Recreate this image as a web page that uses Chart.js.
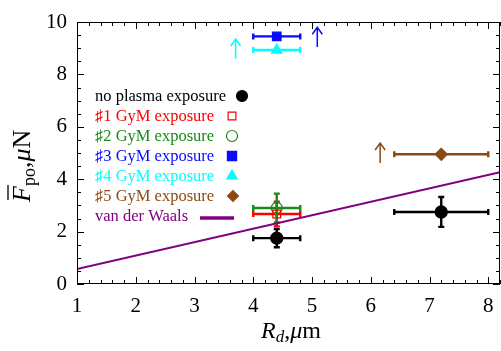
<!DOCTYPE html>
<html>
<head>
<meta charset="utf-8">
<script src="https://cdn.jsdelivr.net/npm/chart.js@4.4.0/dist/chart.umd.min.js"></script>
<style>
  html, body { margin: 0; padding: 0; background: #fff; }
  #wrap { width: 501px; height: 351px; }
</style>
</head>
<body>
<div id="wrap"><canvas id="myChart" width="501" height="351"></canvas></div>
<script>
// datos
const seriesNames = ['no plasma exposure', '\u266F1 GyM exposure', '\u266F2 GyM exposure',
  '\u266F3 GyM exposure', '\u266F4 GyM exposure', '\u266F5 GyM exposure'];
const seriesColors = ['#000000', '#ff0000', '#1a8a1a', '#0a0aff', '#00ffff', '#8b4a14'];
const seriesStyles = ['circle', 'rect', 'circle', 'rect', 'triangle', 'rectRot'];
const seriesFilled = [true, false, false, true, true, true];

const noPlasmaX = [4.4, 7.2];
const noPlasmaY = [1.75, 2.75];
const noPlasmaXErr = [0.4, 0.8];
const noPlasmaYErr = [0.35, 0.57];

const gym1X = [4.4];
const gym1Y = [2.67];
const gym1XErr = [0.4];
const gym1YErr = [0.47];

const gym2X = [4.4];
const gym2Y = [2.9];
const gym2XErr = [0.4];
const gym2YErr = [0.55];

const gym3X = [4.4];
const gym3Y = [9.45];
const gym3XErr = [0.4];

const gym4X = [4.4];
const gym4Y = [8.93];
const gym4XErr = [0.4];

const gym5X = [7.2];
const gym5Y = [4.95];
const gym5XErr = [0.8];

// flechas (limite inferior)
const arrowX = [5.09, 3.7, 6.16];
const arrowFrom = [9.05, 8.6, 4.62];
const arrowTo = [9.8, 9.35, 5.38];
const arrowColors = ['#0a0aff', '#00ffff', '#8b4a14'];

// van der Waals
const vdwX = [1, 8.2];
const vdwY = [0.57, 4.27];

const xTicks = [1, 2, 3, 4, 5, 6, 7, 8];
const yTicks = [0, 2, 4, 6, 8, 10];

function pts(xs, ys) { return xs.map((x, i) => ({ x: x, y: ys[i] })); }

const allX = [noPlasmaX, gym1X, gym2X, gym3X, gym4X, gym5X];
const allY = [noPlasmaY, gym1Y, gym2Y, gym3Y, gym4Y, gym5Y];
const allXErr = [noPlasmaXErr, gym1XErr, gym2XErr, gym3XErr, gym4XErr, gym5XErr];
const allYErr = [noPlasmaYErr, gym1YErr, gym2YErr, null, null, null];
const radii = [6, 5.5, 5.5, 6, 6, 6];
const legendRadii = [5.5, 5.5, 5.5, 6.5, 6, 5.5];

const datasets = [{
  type: 'line',
  label: 'van der Waals',
  data: pts(vdwX, vdwY),
  borderColor: '#800080',
  borderWidth: 2,
  pointRadius: 0,
  fill: false
}];
seriesNames.forEach((n, i) => {
  datasets.push({
    type: 'scatter',
    label: n,
    data: pts(allX[i], allY[i]),
    pointStyle: seriesStyles[i],
    pointRadius: radii[i],
    borderColor: seriesColors[i],
    backgroundColor: seriesFilled[i] ? seriesColors[i] : 'rgba(0,0,0,0)',
    borderWidth: 1.3
  });
});

const serif = '"Liberation Serif", "DejaVu Serif", serif';

// barras de error (dibujadas antes de los puntos)
const errorBars = {
  id: 'errorBars',
  beforeDatasetsDraw(chart) {
    const ctx = chart.ctx, xs = chart.scales.x, ys = chart.scales.y;
    ctx.save();
    ctx.lineWidth = 2.4;
    for (let i = 0; i < 6; i++) {
      ctx.strokeStyle = seriesColors[i];
      allX[i].forEach((x, j) => {
        const px = xs.getPixelForValue(x), py = ys.getPixelForValue(allY[i][j]);
        const ex = allXErr[i] ? allXErr[i][j] : 0;
        if (ex) {
          const a = xs.getPixelForValue(x - ex), b = xs.getPixelForValue(x + ex);
          ctx.beginPath();
          ctx.moveTo(a, py); ctx.lineTo(b, py);
          ctx.moveTo(a, py - 3); ctx.lineTo(a, py + 3);
          ctx.moveTo(b, py - 3); ctx.lineTo(b, py + 3);
          ctx.stroke();
        }
        const ey = allYErr[i] ? allYErr[i][j] : 0;
        if (ey) {
          const a = ys.getPixelForValue(allY[i][j] - ey), b = ys.getPixelForValue(allY[i][j] + ey);
          ctx.beginPath();
          ctx.moveTo(px, a); ctx.lineTo(px, b);
          ctx.moveTo(px - 3, a); ctx.lineTo(px + 3, a);
          ctx.moveTo(px - 3, b); ctx.lineTo(px + 3, b);
          ctx.stroke();
        }
      });
    }
    // flechas
    ctx.lineWidth = 1.5;
    arrowX.forEach((x, i) => {
      const px = xs.getPixelForValue(x);
      const y0 = ys.getPixelForValue(arrowFrom[i]), y1 = ys.getPixelForValue(arrowTo[i]);
      ctx.strokeStyle = arrowColors[i];
      ctx.beginPath();
      ctx.moveTo(px, y0); ctx.lineTo(px, y1);
      ctx.moveTo(px - 5, y1 + 7); ctx.lineTo(px, y1); ctx.lineTo(px + 5, y1 + 7);
      ctx.stroke();
    });
    ctx.restore();
  }
};

// marco, marcas hacia adentro, leyenda y titulos
const frame = {
  id: 'frame',
  afterDraw(chart) {
    const ctx = chart.ctx, a = chart.chartArea, xs = chart.scales.x, ys = chart.scales.y;
    ctx.save();
    ctx.strokeStyle = '#000';
    ctx.lineWidth = 1;
    ctx.strokeRect(a.left + 0.5, a.top + 0.5, a.right - a.left - 1, a.bottom - a.top - 1);
    ctx.beginPath();
    for (let v = 1; v <= 8.2001; v += 0.2) {
      const p = Math.round(xs.getPixelForValue(v)) + 0.5;
      const major = Math.abs(v - Math.round(v)) < 1e-6;
      const L = major ? 7 : 4;
      ctx.moveTo(p, a.bottom); ctx.lineTo(p, a.bottom - L);
      ctx.moveTo(p, a.top); ctx.lineTo(p, a.top + L);
    }
    for (let v = 0; v <= 10.0001; v += 0.5) {
      const p = Math.round(ys.getPixelForValue(v)) + 0.5;
      const major = Math.abs(v / 2 - Math.round(v / 2)) < 1e-6;
      const L = major ? 7 : 4;
      ctx.moveTo(a.left, p); ctx.lineTo(a.left + L, p);
      ctx.moveTo(a.right, p); ctx.lineTo(a.right - L, p);
    }
    ctx.stroke();

    // leyenda
    ctx.font = '16.5px ' + serif;
    ctx.textBaseline = 'middle';
    const rows = [97, 117, 137, 157, 177, 197];
    seriesNames.forEach((n, i) => {
      ctx.fillStyle = seriesColors[i];
      ctx.fillText(n, 95, rows[i]);
    });
    ctx.fillStyle = '#800080';
    ctx.fillText('van der Waals', 95, 217);
    ctx.strokeStyle = '#800080';
    ctx.lineWidth = 3.5;
    ctx.beginPath(); ctx.moveTo(200, 218); ctx.lineTo(234, 218); ctx.stroke();
    // simbolos de la leyenda
    const mx = [242, 232, 232, 232, 232, 233];
    seriesNames.forEach((n, i) => {
      ctx.fillStyle = seriesFilled[i] ? seriesColors[i] : 'rgba(0,0,0,0)';
      ctx.strokeStyle = seriesColors[i];
      ctx.lineWidth = 1.2;
      Chart.helpers.drawPoint(ctx, { pointStyle: seriesStyles[i], radius: legendRadii[i], borderWidth: 1.2 }, mx[i], rows[i] - 1);
    });

    // titulo eje x
    ctx.fillStyle = '#000';
    ctx.textBaseline = 'alphabetic';
    let x = 261, y = 338;
    ctx.font = 'italic 24px ' + serif;
    ctx.fillText('R', x, y); x += ctx.measureText('R').width;
    ctx.font = 'italic 17px ' + serif;
    ctx.fillText('d', x, y + 4); x += ctx.measureText('d').width;
    ctx.font = '24px ' + serif;
    ctx.fillText(',', x, y); x += ctx.measureText(',').width;
    ctx.font = 'italic 24px ' + serif;
    ctx.fillText('\u03BC', x, y); x += ctx.measureText('\u03BC').width;
    ctx.font = '24px ' + serif;
    ctx.fillText('m', x, y);

    // titulo eje y
    ctx.translate(30, 202);
    ctx.rotate(-Math.PI / 2);
    x = 0; y = 0;
    ctx.font = 'italic 26px ' + serif;
    ctx.fillText('F', x, y);
    const fw = ctx.measureText('F').width;
    ctx.lineWidth = 1.3; ctx.strokeStyle = '#000';
    ctx.beginPath(); ctx.moveTo(x + 2, y - 22); ctx.lineTo(x + fw + 1, y - 22); ctx.stroke();
    x += fw;
    ctx.font = '18px ' + serif;
    ctx.fillText('po', x, y + 5); x += ctx.measureText('po').width;
    ctx.font = '26px ' + serif;
    ctx.fillText(',', x, y); x += ctx.measureText(',').width;
    ctx.font = 'italic 26px ' + serif;
    ctx.fillText('\u03BC', x, y); x += ctx.measureText('\u03BC').width;
    ctx.font = '26px ' + serif;
    ctx.fillText('N', x, y);
    ctx.restore();
  }
};

const config = {
  data: { datasets: datasets },
  options: {
    responsive: false,
    animation: false,
    layout: { autoPadding: false, padding: { top: 22, right: 1, left: 0, bottom: 0 } },
    plugins: { legend: { display: false }, tooltip: { enabled: false } },
    scales: {
      x: {
        type: 'linear', min: 1, max: 8.2,
        grid: { display: false },
        border: { display: false },
        afterBuildTicks: (s) => { s.ticks = xTicks.map(v => ({ value: v })); },
        afterFit: (s) => { s.height = 67; s.paddingLeft = 0; s.paddingRight = 0; },
        ticks: { color: '#000', font: { family: serif, size: 21 }, padding: 2, maxRotation: 0 }
      },
      y: {
        type: 'linear', min: 0, max: 10,
        grid: { display: false },
        border: { display: false },
        afterBuildTicks: (s) => { s.ticks = yTicks.map(v => ({ value: v })); },
        afterFit: (s) => { s.width = 77; s.paddingTop = 0; s.paddingBottom = 0; },
        ticks: { color: '#000', font: { family: serif, size: 21 }, padding: 2 }
      }
    }
  },
  plugins: [errorBars, frame]
};

const myChart = new Chart(document.getElementById('myChart'), config);
</script>
</body>
</html>
